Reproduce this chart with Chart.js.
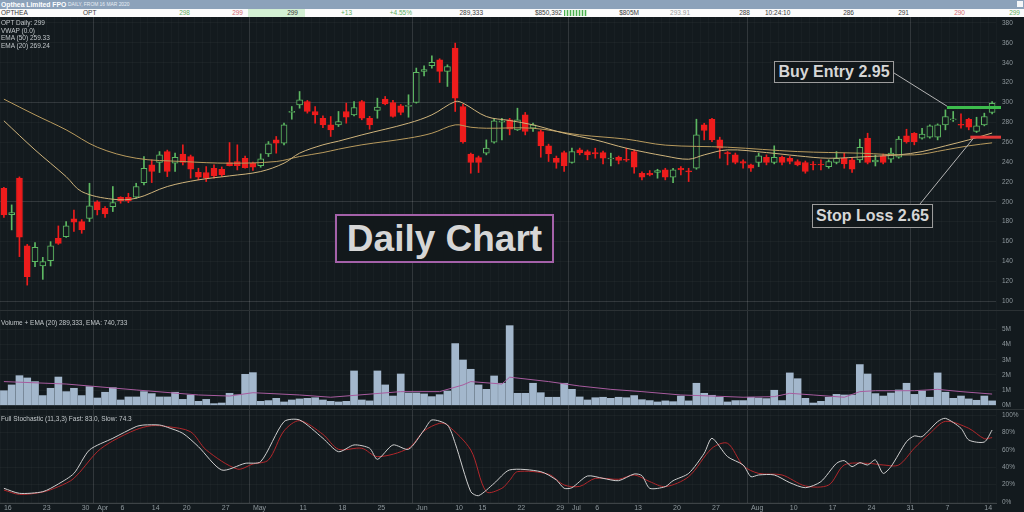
<!DOCTYPE html>
<html>
<head>
<meta charset="utf-8">
<script src="https://cdn.jsdelivr.net/npm/chart.js@4.4.1/dist/chart.umd.min.js"></script>
<style>
html, body { margin: 0; padding: 0; background: #131a1e; }
#wrap { position: relative; width: 1024px; height: 512px; overflow: hidden; background: #131a1e; font-family: 'Liberation Sans', Arial, sans-serif; }
#wrap canvas { position: absolute; left: 0; }
#titlebar { position: absolute; left: 0; top: 0; width: 1024px; height: 9px; background: #8ca2ba; color: #fff; white-space: nowrap; }
#titlebar .t1 { position: absolute; left: 1px; top: 0; font-size: 6.8px; font-weight: bold; line-height: 9px; }
#titlebar .t2 { position: absolute; left: 68px; top: 0; font-size: 4.9px; line-height: 9px; color: #e8eef5; }
#titlebar .ico { position: absolute; right: 1px; top: 1px; width: 6px; height: 6px; background: #f4f6f8; }
#quote { position: absolute; left: 0; top: 9px; width: 1024px; height: 8px; background: #fbfbfb; }
#quote .q { position: absolute; top: 0; font-size: 6.5px; line-height: 8px; color: #3a3a3a; white-space: nowrap; }
#quote .r { text-align: right; }
#quote .g { color: #5fae5f; }
#quote .p { color: #d46a72; }
#quote .gr { color: #9a9a9a; }
#quote .qbg { position: absolute; top: 0; height: 8px; background: #d3efd3; }
#quote .mini { position: absolute; top: 1px; height: 6px; background: repeating-linear-gradient(90deg, #4caf50 0 1px, #c9ebc9 1px 3px); }
.txt { position: absolute; left: 1px; font-size: 6.5px; color: #c2c7ca; white-space: nowrap; }
.sepline { position: absolute; left: 0; width: 1024px; height: 1px; background: rgba(255,255,255,0.10); }
.box { position: absolute; box-sizing: border-box; background: #12181b; color: #d6d6d6; font-weight: bold; display: flex; align-items: center; justify-content: center; white-space: nowrap; line-height: 1; }
</style>
</head>
<body>
<div id="wrap">
  <div id="titlebar"><span class="t1">Opthea Limited FPO</span><span class="t2">DAILY, FROM 16 MAR 2020</span><div class="ico"></div></div>
  <div id="quote">
    <div class="qbg" style="left:248px;width:57px"></div>
    <span class="q" style="left:1px">OPTHEA</span>
    <span class="q" style="left:83px">OPT</span>
    <span class="q r g" style="left:143px;width:47px">298</span>
    <span class="q r p" style="left:197px;width:46px">299</span>
    <span class="q r" style="left:248px;width:50px">299</span>
    <span class="q r g" style="left:305px;width:47px">+13</span>
    <span class="q r g" style="left:357px;width:55px">+4.55%</span>
    <span class="q r" style="left:417px;width:66px">289,333</span>
    <span class="q r" style="left:488px;width:74px">$850,392</span>
    <div class="mini" style="left:564px;width:23px"></div>
    <span class="q r" style="left:587px;width:52px">$805M</span>
    <span class="q r gr" style="left:645px;width:45px">293.91</span>
    <span class="q r" style="left:695px;width:55px">288</span>
    <span class="q" style="left:765px">10:24:10</span>
    <span class="q r" style="left:804px;width:50px">286</span>
    <span class="q r" style="left:859px;width:50px">291</span>
    <span class="q r p" style="left:914px;width:51px">290</span>
    <span class="q r g" style="left:969px;width:51px">299</span>
  </div>

  <canvas id="priceChart" width="1024" height="293" style="top:17px"></canvas>
  <canvas id="volChart" width="1024" height="98" style="top:311px"></canvas>
  <canvas id="stochChart" width="1024" height="102" style="top:410px"></canvas>

  <div class="sepline" style="top:310px"></div>
  <div class="sepline" style="top:409px"></div>

  <div class="txt" style="top:19px;line-height:7.6px">OPT Daily: 299<br>VWAP (0.0)<br>EMA (50) 259.33<br>EMA (20) 269.24</div>
  <div class="txt" style="top:319px;line-height:8px">Volume + EMA (20) 289,333, EMA: 740,733</div>
  <div class="txt" style="top:415px;line-height:8px">Full Stochastic (11,3,3) Fast: 83.0, Slow: 74.3</div>

  <div class="box" style="left:335px;top:214px;width:219px;height:49px;border:2px solid #a461a9;font-size:37px">Daily Chart</div>
  <div class="box" style="left:774px;top:61px;width:120px;height:22px;border:1px solid #9c9c9c;font-size:16px">Buy Entry 2.95</div>
  <div class="box" style="left:812px;top:204px;width:121px;height:24px;border:1px solid #9c9c9c;font-size:16px">Stop Loss 2.65</div>
</div>

<script>
// trading days shown on the chart
const marDays = [16,17,18,19,20,23,24,25,26,27,30,31];
const aprDays = [1,2,3,6,7,8,9,14,15,16,17,20,21,22,23,24,27,28,29,30];
const mayDays = [1,4,5,6,7,8,11,12,13,14,15,18,19,20,21,22,25,26,27,28,29];
const junDays = [1,2,3,4,5,10,11,12,15,16,17,18,19,22,23,24,25,26,29,30];
const julDays = [1,2,3,6,7,8,9,10,13,14,15,16,17,20,21,22,23,24,27,28,29,30,31];
const augDays = [3,4,5,6,7,10,11,12,13,14,17,18,19,20,21,24,25,26,27,28,31];
const sepDays = [1,2,3,4,7,8,9,10,11,14,15];

// bottom axis labels
const tickDates = ['Mar 16','Mar 23','Mar 30','Apr 1','Apr 6','Apr 14','Apr 20','Apr 27','May 1','May 11','May 18','May 25',
  'Jun 1','Jun 10','Jun 15','Jun 22','Jun 29','Jul 1','Jul 6','Jul 13','Jul 20','Jul 27','Aug 3','Aug 10','Aug 17','Aug 24','Aug 31','Sep 7','Sep 14'];
const tickText = ['16','23','30','Apr','6','14','20','27','May','11','18','25',
  'Jun','10','15','22','29','Jul','6','13','20','27','Aug','10','17','24','31','7','14'];

// OHLC (cents)
const opens = [213.6,187,223.7,155.5,139.7,135.3,140.7,163.2,164.9,182.7,180,183.3,199.8,193.4,195.1,204.5,204.5,204.5,219.3,237.1,
  239.5,250.5,238.8,247.9,245.5,229.7,229.4,233.7,232.7,239.5,240.5,243.8,238.8,236.4,248.2,262.3,259,290,297.6,300.9,
  290.9,284.1,277.4,277.4,290.9,287.5,300.9,284.1,291.9,303.3,299.9,296.6,296,299.9,331.2,336.9,342.9,331.2,354.7,295.9,
  247.9,244.5,248.9,259.9,280,282.5,272.4,287.5,274,270.7,256.3,243.8,249.5,239.5,252.2,250.5,249.5,249.5,243,244.8,
  242.5,250.5,228.7,228.7,229.4,232,224.7,233.5,231,233.7,277.4,283.1,262.3,249.5,247.2,240.5,237.1,239.5,244.8,239.5,
  244.8,243.8,240.5,239.5,237.5,237.5,235.4,239.5,243.8,242.2,242.2,264,240,246.2,242.8,244.8,266.3,269,264,265,
  265,277.4,282.5,278,283.1,270.7,277.4,289.9];
const highs = [214.5,196.8,225,157,158.8,144,159.8,175.6,180,191.7,182,218.6,201,195,215.3,205,208.5,218.6,245.5,242.1,
  250.5,252,248.9,257.3,247,233.7,235.4,237.1,235,259.6,257.3,246,240,248.2,260.6,265.7,279.1,295.9,311,302,
  295.9,286.5,285.8,290.9,299.3,300.9,302,286,304.3,306,302,298,307.7,334.6,336.9,347,344,337.9,359.7,298,
  249,246,262.3,284.1,284.1,284,294.2,289.9,279.1,272,258,246,251,253.9,254,252,253.9,251,248.9,246,
  253.9,252,230,231.4,232.7,233.7,233.7,235.4,233.7,283.1,279,284.1,265,250.5,249,242.2,238,248.9,247.2,256.3,
  246,245.5,242.2,241,240.5,242.2,242.2,250.5,248.9,244,263,269,247,248,253.9,265.7,273,269.7,274,277.4,
  278.4,292.5,290.9,288.5,284.1,285.1,289.2,300.9];
const lows = [184.3,171.6,144.7,116,134.6,121.8,135.3,157,164,170,168.2,180,186.7,184.3,190.1,198.5,199,203.5,216.9,219.3,
  229.4,225.3,230.4,237.1,223.7,222,220.3,223.7,225.3,236,232,233.7,231.4,234.7,245.5,248.9,257.3,283.1,294.2,289.2,
  279.1,274.7,265.7,275.7,279.1,286.5,282.5,273,284.1,297.6,285.1,287.5,285.1,299.3,326.8,334.6,320.1,316.1,290.9,258.9,
  228.7,229.4,247.2,258.9,262.3,267.3,271.7,267.3,270.7,244.8,240.5,233.7,230.4,238.8,247.2,242.2,243.8,238.1,236.1,238.1,
  240.5,228.7,222,226,223.7,222,219.3,227,220.3,232.7,262.3,260.6,243.8,237.1,238.1,233.7,230.4,235.4,237.1,238.1,
  237.1,238.1,236.1,228.7,232,232,233.7,238.1,233.7,229.4,239.5,238.1,236,238.1,239.5,243.8,259,257.3,263,264,
  262.3,272.4,280.8,274,272.4,269.7,276.4,288.5];
const closes = [186.7,189,164.2,124.5,154.1,139.7,155.5,158.1,175.6,179.3,171.6,195.8,191.7,187.7,199.1,200.8,200.8,215.3,233.7,230.4,
  247.2,230.4,244.8,239.5,232.7,224.7,223.7,226,227,236.4,236.4,234.4,234.7,243.2,258.3,259,277.4,291,302.6,290.9,
  287.5,277.4,272.4,280.8,285.1,294.9,284.1,277.4,295.2,298.6,285.8,289.9,297,330.2,333.2,340.3,331.2,336.2,304.3,260.6,
  239.5,239.5,253.9,281.5,281.5,273,282.5,270.7,277.4,256.3,248.2,239.5,236.1,250.5,249.5,247.2,248.2,243.8,244,241.5,
  241.8,234.7,224.7,227,231.4,224.7,232,232,230,267.3,271.7,262.3,253.9,248.2,239.5,238.8,233.7,246.2,239.5,244.8,
  239.5,240.5,237.1,230.4,237,237,240.5,243.8,238.1,232.7,254.9,239.5,242,239.5,248.9,263,260.6,260.6,268,276.4,
  277.4,285.8,283.5,277,275,276.4,285.8,299];

// moving averages (index, value)
const ema50Idx = [0,4,8,12,17,23,29,35,38,41,43,46,52,55,58,60,62,68,74,80,85,93,102,110,117,121,124,127];
const ema50Val = [303.3,287.5,272.4,254.9,243.8,240.5,238.8,240.5,245.5,249.5,252.9,257.3,264,269,277.4,275,274,274,267.3,263,257,254.9,250.5,248.9,247.2,252.2,256.3,259.3];
const ema20Idx = [0,4,8,10,14,17,21,25,29,33,36,38,41,43,46,52,55,58,59,62,65,68,72,76,80,85,88,90,93,98,102,106,111,115,118,121,124,127];
const ema20Val = [281.5,252.2,225.3,210.2,202.5,203.5,215.3,222,226,230.4,238.8,248.9,257.3,261,267.3,279.1,287.5,300.9,299.3,285.8,281.8,277.4,269,262.3,253.9,246,242.8,247.2,252.2,249.5,246.2,243.8,245.5,247.2,250.5,256.3,262.3,269.2];

// volume (millions) and its EMA
const volumes = [0.96,1.34,1.95,1.80,1.56,0.64,1.12,1.86,0.90,1.12,0.64,1.23,0.48,0.86,1.16,0.35,0.55,0.55,0.90,0.77,
  0.55,0.55,0.86,0.39,0.68,0.26,0.39,0.11,0.15,0.79,0.68,2.04,2.15,0.26,0.31,0.46,0.22,0.35,0.42,0.46,
  0.50,0.35,0.26,0.22,0.26,2.26,0.35,0.29,2.26,1.34,0.61,2.06,0.81,0.81,0.75,0.57,0.70,0.94,4.06,2.98,
  2.37,1.34,1.05,1.93,1.45,5.24,0.79,0.79,1.45,0.83,0.53,0.53,1.45,1.05,0.55,0.35,0.50,0.53,0.46,0.53,
  0.50,0.64,0.37,0.31,0.22,0.29,0.24,0.61,0.29,1.45,0.79,0.66,0.53,0.22,0.31,0.31,0.53,0.48,0.44,0.99,
  0.31,2.13,1.75,0.46,0.15,0.26,0.53,0.72,0.68,0.68,2.68,2.06,0.77,0.61,0.81,1.01,1.45,0.72,0.94,0.53,
  2.13,0.86,0.46,0.61,0.42,0.33,0.61,0.29];
const volEmaIdx = [0,8,17,25,29,32,38,42,51,56,59,60,64,65,70,74,78,82,87,91,95,99,101,104,108,110,112,117,120,123,127];
const volEmaVal = [1.56,1.40,1.01,0.68,0.61,0.83,0.68,0.53,0.90,0.90,1.34,1.56,1.40,1.85,1.56,1.27,1.05,0.90,0.68,0.61,0.53,0.57,0.79,0.68,0.53,0.90,0.96,0.96,1.05,0.90,0.74];

// full stochastic (11,3,3)
const fastIdx = [0,2,5,7,9,11,14,17,18,20,21,23,25,28,31,33,36,38,41,43,45,47,48,50,52,54,55,57,58,60,61,63,65,69,71,72,73,75,77,79,81,82,83,85,86,88,90,91,93,95,96,97,99,101,103,105,107,108,109,110,111,112,113,114,116,117,118,120,121,123,124,126,127];
const fastVal = [15.8,10,11.9,20.8,33,60,73.5,87,88.8,88.8,86.2,79.2,63.8,36.9,44.6,46.5,92.7,94.6,73.5,58,65.8,62,49.2,65.8,60.8,83,94.6,88.8,67.7,11.9,7.3,21.5,37,35,25.4,15.8,16.5,30,27.3,24.6,32.3,30.4,15.8,17.7,24.6,33,56.2,73.5,52.3,42.7,29.2,31.2,31.2,22.3,16.5,23.5,44.6,47.7,40.8,45.4,42.7,48.5,33,40.8,69.6,76.2,75.4,92.7,96.5,85,71.5,69.2,83];
const slowIdx = [0,2,5,7,9,12,14,17,19,21,24,26,30,32,34,36,38,41,43,46,48,52,54,56,57,60,62,64,65,66,70,72,74,76,79,81,83,85,88,91,93,95,97,100,103,106,108,111,113,115,117,119,121,124,126,127];
const slowVal = [13.8,8.8,11.5,17.7,27.3,58,70.5,83.5,88,87,81,60,38,43.8,48.5,82,93.8,78,60.8,62,52.3,62,82,90.8,88.8,60,11.9,15.8,25,35,32,19.6,18,27.3,26.2,31.2,23.5,17.7,29.2,62,67.7,42,33,31.2,18.5,19.6,42.7,44.6,42.7,42.7,62,79.2,93,85,73,74.3];

// axis ticks
const priceTicks = [100,110,120,130,140,150,160,170,180,190,200,210,220,230,240,250,260,270,280,290,300,310,320,330,340,350,360,370,380];
const volTicks = [0,1,2,3,4,5];
const stochTicks = [0,20,40,60,80,100];

// trade levels
const buyEntry = 295;
const stopLoss = 265;
const buyFrom = 121.2;
const stopFrom = 124.2;

const BG = '#131a1e';
const RED = '#ee1c1c';
const GREEN = '#5db862';

const months = [['Mar', marDays], ['Apr', aprDays], ['May', mayDays], ['Jun', junDays], ['Jul', julDays], ['Aug', augDays], ['Sep', sepDays]];
let labels = [];
let monthStarts = new Set();
months.forEach(([m, days]) => {
    monthStarts.add(labels.length);
    days.forEach(d => labels.push(m + ' ' + d));
});
monthStarts.delete(0);

function sparse(idx, vals) {
    let out = new Array(labels.length).fill(null);
    idx.forEach((k, j) => { out[k] = vals[j]; });
    return out;
}

Chart.defaults.font.family = "'Liberation Sans', Arial, sans-serif";
Chart.defaults.font.size = 6.5;
Chart.defaults.color = '#8f989d';
Chart.defaults.animation = false;

function gridX(ctx) {
    if (monthStarts.has(ctx.index)) return 'rgba(255,255,255,0.13)';
    return 'rgba(255,255,255,0.025)';
}

function makeOptions(yScale, showDates) {
    return {
        responsive: false,
        animation: false,
        events: [],
        layout: { padding: 0 },
        plugins: { legend: { display: false }, tooltip: { enabled: false } },
        scales: {
            x: {
                type: 'category',
                offset: true,
                grid: { offset: true, drawTicks: false, color: gridX },
                border: { display: showDates, color: 'rgba(255,255,255,0.18)' },
                ticks: showDates ? {
                    display: true, autoSkip: false, maxRotation: 0, padding: 1, align: 'start',
                    font: { size: 7 },
                    callback: (v, i) => {
                        let k = tickDates.indexOf(labels[i]);
                        return k >= 0 ? tickText[k] : '';
                    }
                } : { display: false },
                afterFit: s => { s.height = showDates ? 9 : 0; s.paddingLeft = 0; s.paddingRight = 0; }
            },
            y: Object.assign({
                position: 'right',
                border: { display: false },
                grid: { drawTicks: false, color: 'rgba(255,255,255,0.035)' },
                afterFit: s => { s.width = 28; s.paddingTop = 0; s.paddingBottom = 0; }
            }, yScale)
        }
    };
}

const isUp = opens.map((o, i) => closes[i] >= o);
const bodyFill = isUp.map(u => u ? BG : RED);
const bodyEdge = isUp.map(u => u ? GREEN : RED);

const levelPlugin = {
    id: 'levels',
    afterDatasetsDraw(chart) {
        const { ctx, chartArea, scales: { x, y } } = chart;
        const gx = x.getPixelForValue(buyFrom), gy = y.getPixelForValue(buyEntry);
        const rx = x.getPixelForValue(stopFrom), ry = y.getPixelForValue(stopLoss);
        ctx.save();
        ctx.strokeStyle = '#b4b4b4';
        ctx.lineWidth = 1;
        ctx.beginPath();
        ctx.moveTo(894, 56); ctx.lineTo(gx + 2, gy);
        ctx.moveTo(920, 187); ctx.lineTo(rx + 4, ry);
        ctx.stroke();
        ctx.lineWidth = 3;
        ctx.strokeStyle = '#3dbd4d';
        ctx.beginPath(); ctx.moveTo(gx, gy); ctx.lineTo(chartArea.right + 5, gy); ctx.stroke();
        ctx.strokeStyle = '#e23838';
        ctx.beginPath(); ctx.moveTo(rx, ry); ctx.lineTo(chartArea.right + 5, ry); ctx.stroke();
        ctx.restore();
    }
};

new Chart(document.getElementById('priceChart'), {
    type: 'bar',
    data: {
        labels: labels,
        datasets: [
            { type: 'line', data: sparse(ema20Idx, ema20Val), borderColor: '#cfb47c', borderWidth: 1, pointRadius: 0, spanGaps: true, tension: 0.35 },
            { type: 'line', data: sparse(ema50Idx, ema50Val), borderColor: '#b99b5e', borderWidth: 1, pointRadius: 0, spanGaps: true, tension: 0.35 },
            {
                data: opens.map((o, i) => [o, closes[i]]),
                backgroundColor: bodyFill, borderColor: bodyEdge, borderWidth: 1, borderSkipped: false,
                barThickness: 6, minBarLength: 1, grouped: false
            },
            {
                data: lows.map((l, i) => [l, highs[i]]),
                backgroundColor: bodyEdge, borderWidth: 0, barThickness: 1, grouped: false
            }
        ]
    },
    options: makeOptions({
        min: 90.94, max: 386.04,
        afterBuildTicks: s => { s.ticks = priceTicks.map(v => ({ value: v })); },
        ticks: { padding: 6 },
        grid: {
            drawTicks: false,
            color: c => (c.tick && c.tick.value % 100 === 0) ? 'rgba(255,255,255,0.13)' : 'rgba(255,255,255,0.035)'
        }
    }, false),
    plugins: [levelPlugin]
});

new Chart(document.getElementById('volChart'), {
    type: 'bar',
    data: {
        labels: labels,
        datasets: [
            { type: 'line', data: sparse(volEmaIdx, volEmaVal), borderColor: '#a85c9f', borderWidth: 1, pointRadius: 0, spanGaps: true, tension: 0 },
            { data: volumes, backgroundColor: '#a3b7cc', barThickness: 7, grouped: false }
        ]
    },
    options: makeOptions({
        min: -0.243, max: 6.204,
        afterBuildTicks: s => { s.ticks = volTicks.map(v => ({ value: v })); },
        ticks: { padding: 6, callback: v => v + 'M' }
    }, false)
});

new Chart(document.getElementById('stochChart'), {
    type: 'line',
    data: {
        labels: labels,
        datasets: [
            { data: sparse(fastIdx, fastVal), borderColor: '#cfcfcf', borderWidth: 1, pointRadius: 0, spanGaps: true, tension: 0.25 },
            { data: sparse(slowIdx, slowVal), borderColor: '#b3272b', borderWidth: 1, pointRadius: 0, spanGaps: true, tension: 0.3 }
        ]
    },
    options: makeOptions({
        min: -1.15, max: 106.11,
        afterBuildTicks: s => { s.ticks = stochTicks.map(v => ({ value: v })); },
        ticks: { padding: 6, callback: v => v + '%' }
    }, true)
});
</script>
</body>
</html>
